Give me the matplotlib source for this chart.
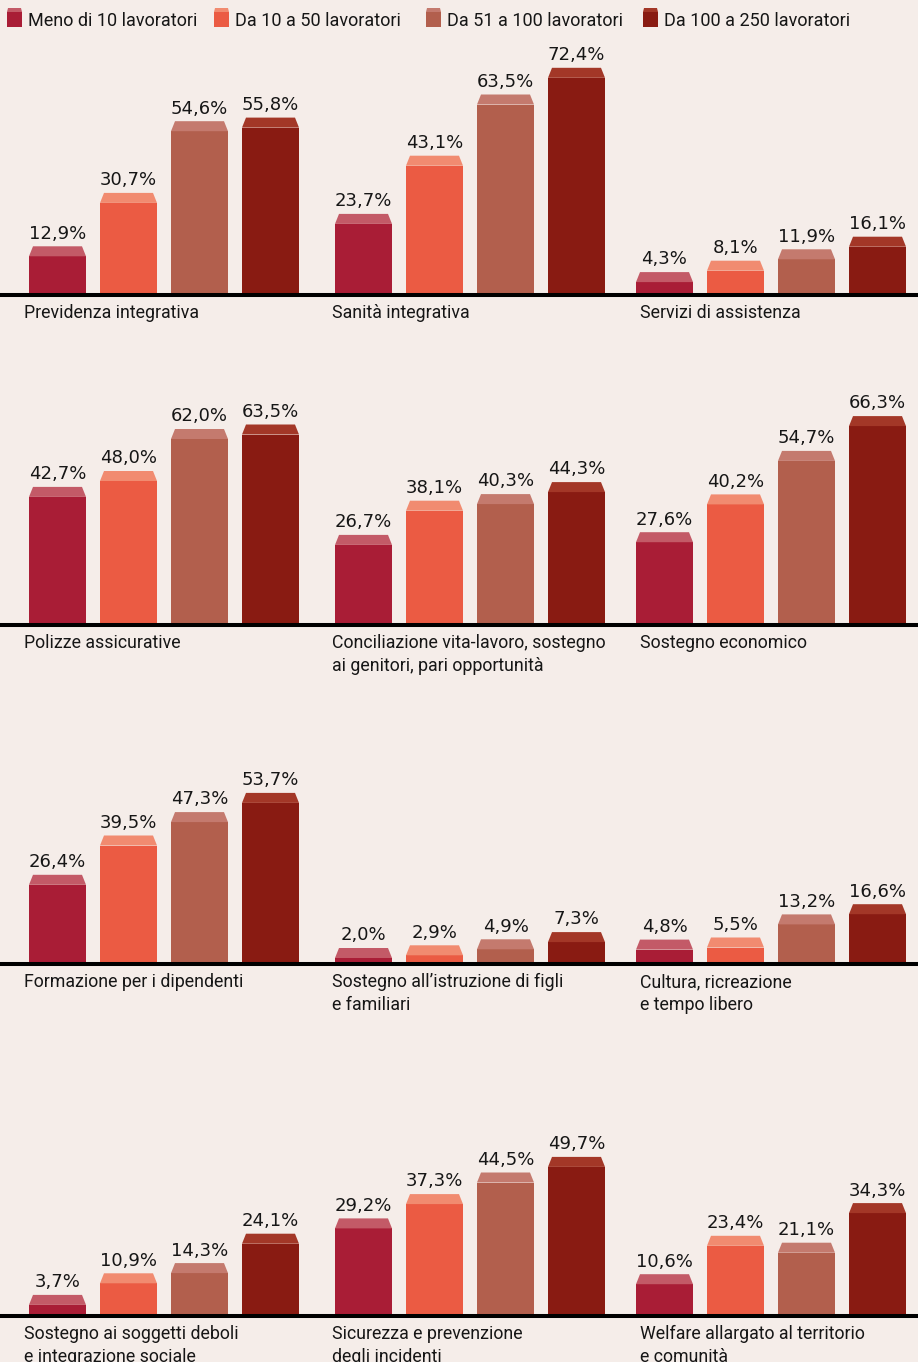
import matplotlib
matplotlib.use("Agg")
import matplotlib.pyplot as plt
from matplotlib.patches import Rectangle, Polygon

W, H = 918, 1362
BG = "#F5EDE9"
TXT = "#161616"

series = ["Meno di 10 lavoratori", "Da 10 a 50 lavoratori",
          "Da 51 a 100 lavoratori", "Da 100 a 250 lavoratori"]
body_colors = ["#A91D36", "#EB5B43", "#B25F4D", "#891B12"]
cap_colors = ["#C35A67", "#F18B70", "#C47A6E", "#A33727"]

categories = [
    ["Previdenza integrativa", "Sanità integrativa", "Servizi di assistenza"],
    ["Polizze assicurative",
     "Conciliazione vita-lavoro, sostegno\nai genitori, pari opportunità",
     "Sostegno economico"],
    ["Formazione per i dipendenti",
     "Sostegno all\u2019istruzione di figli\ne familiari",
     "Cultura, ricreazione\ne tempo libero"],
    ["Sostegno ai soggetti deboli\ne integrazione sociale",
     "Sicurezza e prevenzione\ndegli incidenti",
     "Welfare allargato al territorio\ne comunità"],
]

values = [
    [[12.9, 30.7, 54.6, 55.8], [23.7, 43.1, 63.5, 72.4], [4.3, 8.1, 11.9, 16.1]],
    [[42.7, 48.0, 62.0, 63.5], [26.7, 38.1, 40.3, 44.3], [27.6, 40.2, 54.7, 66.3]],
    [[26.4, 39.5, 47.3, 53.7], [2.0, 2.9, 4.9, 7.3], [4.8, 5.5, 13.2, 16.6]],
    [[3.7, 10.9, 14.3, 24.1], [29.2, 37.3, 44.5, 49.7], [10.6, 23.4, 21.1, 34.3]],
]

# layout in pixels
baselines = [295, 625, 964, 1316]   # centre of the black baseline
col_left = [29, 335, 636]
label_x = [24, 332, 640]
step, bw = 71, 57
PX = 3.0          # pixels per percent
cap_h = 10 / PX   # cap height in data units
inset = 4         # cap top inset in pixels

fig = plt.figure(figsize=(W / 100, H / 100), dpi=100, facecolor=BG)

for r, base in enumerate(baselines):
    top = base - 270
    ax = fig.add_axes([0, 1 - base / H, 1, (base - top) / H])
    ax.set_xlim(0, W)
    ax.set_ylim(0, 270 / PX)
    ax.axis("off")
    ax.axhline(0, color="black", lw=2.9, clip_on=False, zorder=5)
    for c in range(3):
        vals = values[r][c]
        xs = [col_left[c] + i * step for i in range(len(vals))]
        ax.bar(xs, vals, width=bw, align="edge", color=body_colors, lw=0)
        for i, (x, v) in enumerate(zip(xs, vals)):
            poly = Polygon([(x, v), (x + bw, v), (x + bw - inset, v + cap_h),
                            (x + inset, v + cap_h)], closed=True,
                           facecolor=cap_colors[i], lw=0)
            ax.add_patch(poly)
            ax.text(x + bw / 2, v + cap_h + 1.2, f"{v:.1f}%".replace(".", ","),
                    ha="center", va="bottom", fontsize=13, color=TXT,
                    family="DejaVu Sans")
        ax.text(label_x[c], -3.0, categories[r][c], ha="left", va="top",
                fontsize=12.8, color=TXT, family="Roboto", linespacing=1.33,
                clip_on=False)

# legend
lg = fig.add_axes([0, 1 - 40 / H, 1, 40 / H])
lg.set_xlim(0, W)
lg.set_ylim(40, 0)
lg.axis("off")
leg_x = [7, 214, 426, 643]
for i, name in enumerate(series):
    x = leg_x[i]
    lg.add_patch(Rectangle((x, 12), 15, 15, facecolor=body_colors[i], lw=0))
    lg.add_patch(Polygon([(x, 12), (x + 15, 12), (x + 14, 8), (x + 1, 8)],
                         closed=True, facecolor=cap_colors[i], lw=0))
    lg.text(x + 21, 21, name, ha="left", va="center", fontsize=13,
            color=TXT, family="Roboto")

fig.savefig("out.png", dpi=100, facecolor=BG)
